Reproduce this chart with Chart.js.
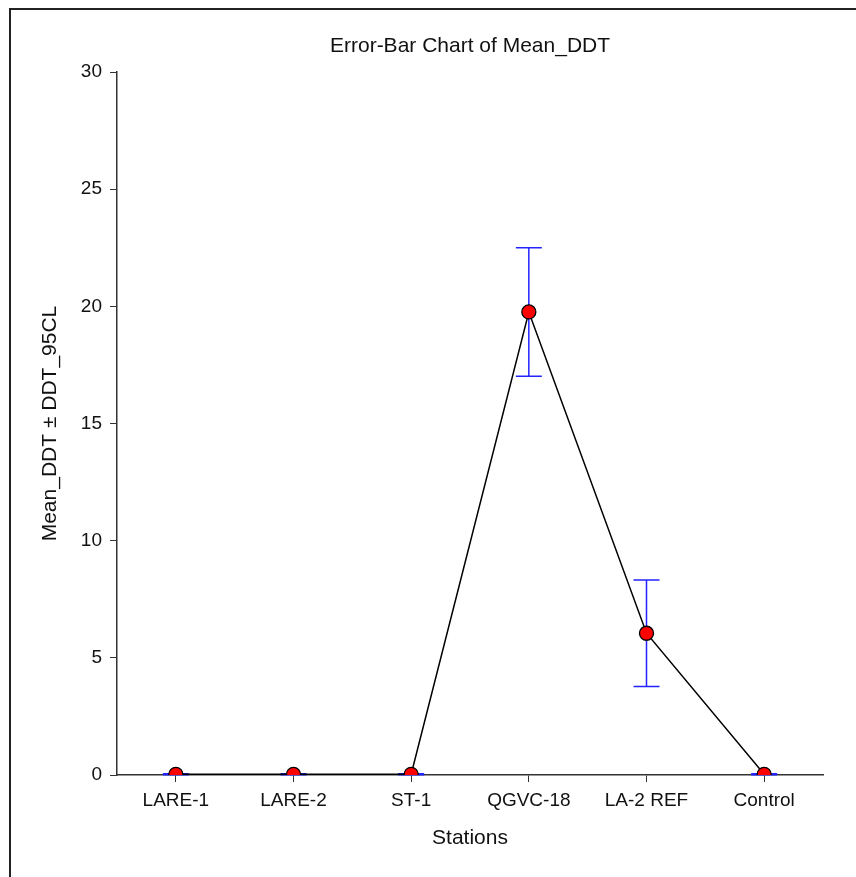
<!DOCTYPE html>
<html>
<head>
<meta charset="utf-8">
<script src="https://cdn.jsdelivr.net/npm/chart.js@4"></script>
<style>
  html, body { margin: 0; padding: 0; background: #fff; }
  #wrap { width: 856px; height: 877px; position: relative; }
</style>
</head>
<body>
<div id="wrap"><canvas id="chart"></canvas></div>
<script>
// Error-bar chart of Mean_DDT by station

const stations = ["LARE-1", "LARE-2", "ST-1", "QGVC-18", "LA-2 REF", "Control"];
const meanDDT = [0.03, 0.03, 0.03, 19.76, 6.05, 0.03];
const ddt95CL = [0.02, 0.02, 0.02, 2.74, 2.27, 0.02];
const yTicks = [0, 5, 10, 15, 20, 25, 30];
const chartTitle = "Error-Bar Chart of Mean_DDT";

const FONT = "Arial, 'Liberation Sans', sans-serif";
const INK = "#111";

// outer frame + title centred over the plot area (not the canvas)
const framePlugin = {
    id: "frame",
    afterDraw(chart) {
        const ctx = chart.ctx;
        const a = chart.chartArea;
        ctx.save();
        ctx.strokeStyle = "#222";
        ctx.lineWidth = 2;
        ctx.strokeRect(10, 9, 900, 900);
        ctx.fillStyle = INK;
        ctx.font = "21px " + FONT;
        ctx.textAlign = "center";
        ctx.textBaseline = "middle";
        ctx.fillText(chartTitle, (a.left + a.right) / 2, 46);
        ctx.restore();
    }
};

// mean ± CL whiskers, drawn under the line and markers
const errorBarPlugin = {
    id: "errorBars",
    beforeDatasetsDraw(chart) {
        const ctx = chart.ctx;
        const x = chart.scales.x, y = chart.scales.y;
        const cap = 13;
        ctx.save();
        ctx.strokeStyle = "#2323ff";
        ctx.lineWidth = 1.5;
        stations.forEach((s, i) => {
            const px = x.getPixelForValue(i);
            const hi = y.getPixelForValue(meanDDT[i] + ddt95CL[i]);
            const lo = y.getPixelForValue(meanDDT[i] - ddt95CL[i]);
            ctx.beginPath();
            ctx.moveTo(px, hi); ctx.lineTo(px, lo);
            ctx.moveTo(px - cap, hi); ctx.lineTo(px + cap, hi);
            ctx.moveTo(px - cap, lo); ctx.lineTo(px + cap, lo);
            ctx.stroke();
        });
        ctx.restore();
    }
};

new Chart(document.getElementById("chart"), {
    type: "line",
    data: {
        labels: stations,
        datasets: [{
            label: "Mean_DDT",
            data: meanDDT,
            borderColor: "#000",
            borderWidth: 1.5,
            pointBackgroundColor: "#ff0000",
            pointBorderColor: "#000",
            pointBorderWidth: 1.3,
            pointRadius: 7,
            tension: 0,
        }]
    },
    options: {
        responsive: true,
        maintainAspectRatio: false,
        animation: false,
        layout: { padding: { left: 30, right: 33, top: 72, bottom: 20 } },
        plugins: {
            legend: { display: false },
            tooltip: { enabled: false },
            title: { display: false },
        },
        scales: {
            x: {
                offset: true,
                grid: { display: true, drawOnChartArea: false, drawTicks: true, tickLength: 7, color: "#333", offset: false },
                border: { color: "#333", width: 1.5 },
                ticks: { color: INK, padding: 7, font: { family: FONT, size: 19 }, maxRotation: 0 },
                title: {
                    display: true, text: "Stations", color: INK,
                    font: { family: FONT, size: 21 }, padding: { top: 4, bottom: 6 },
                },
                afterFit: (s) => { s.height = 82; },
            },
            y: {
                min: 0,
                max: 30,
                afterBuildTicks: (s) => { s.ticks = yTicks.map(v => ({ value: v })); },
                grid: { display: true, drawOnChartArea: false, drawTicks: true, tickLength: 7, color: "#333" },
                border: { color: "#333", width: 1.5 },
                ticks: { color: INK, padding: 8, font: { family: FONT, size: 19 } },
                title: {
                    display: true, text: "Mean_DDT ± DDT_95CL", color: INK,
                    font: { family: FONT, size: 21 }, padding: { top: 8, bottom: 4 },
                },
                afterFit: (s) => { s.width = 87; },
            },
        },
    },
    plugins: [errorBarPlugin, framePlugin],
});
</script>
</body>
</html>
